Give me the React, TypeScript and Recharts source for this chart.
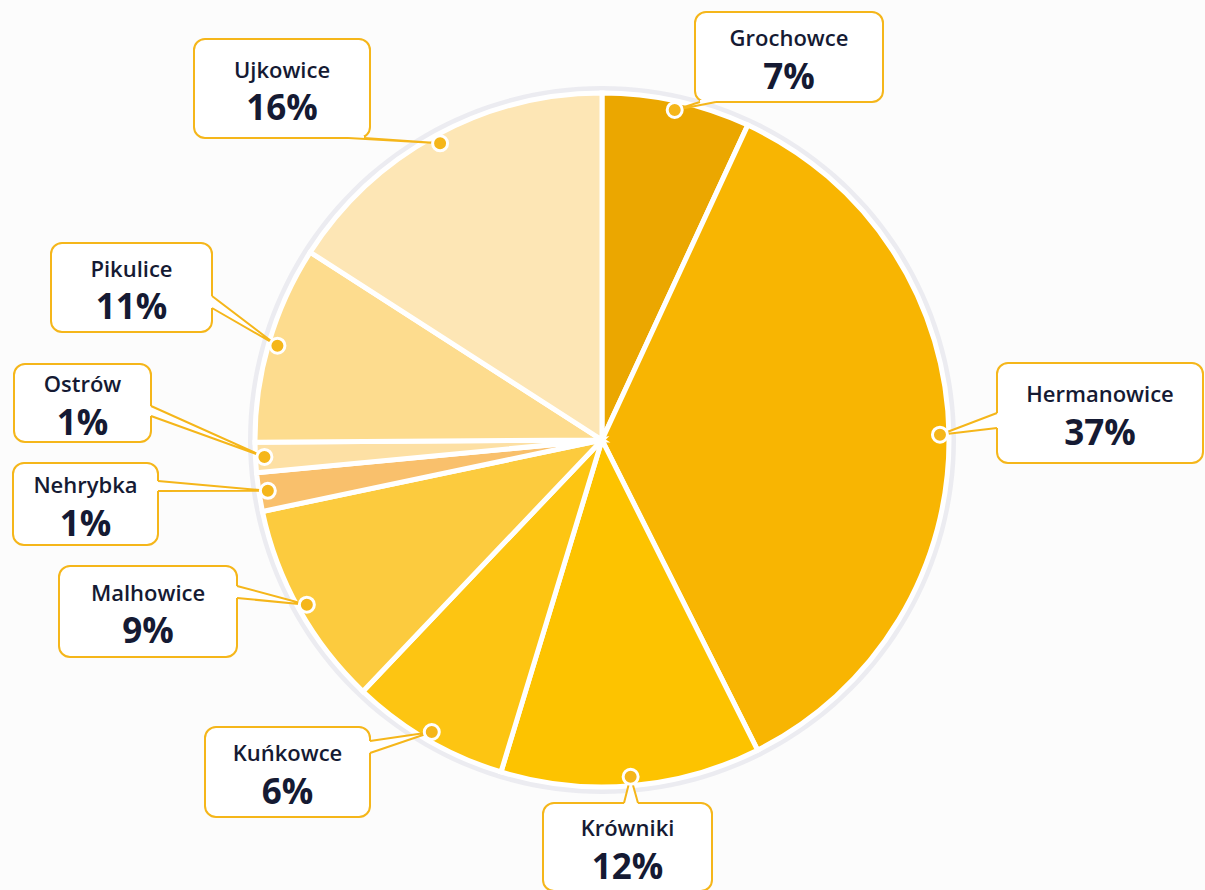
import { PieChart, Pie, Cell } from 'recharts';

const names = ['Grochowce', 'Hermanowice', 'Krówniki', 'Kuńkowce', 'Malhowice', 'Nehrybka', 'Ostrów', 'Pikulice', 'Ujkowice'];
const shares = [6.9, 35.7, 12.1, 7.4, 9.6, 1.8, 1.4, 9.2, 15.9];
const pctLabels = ['7%', '37%', '12%', '6%', '9%', '1%', '1%', '11%', '16%'];
const colors = ['#eba700', '#f8b502', '#fdc300', '#fdc512', '#fccb3e', '#f9c06c', '#fde0a4', '#fddc8e', '#fde6b5'];

// callout boxes: x, y, w, h, side the tail leaves from, tail base span along that side
const boxes = [
  { x: 695, y: 12, w: 188, h: 90, side: 'bottom', t: [700, 716] },
  { x: 997, y: 363, w: 206, h: 100, side: 'left', t: [413, 428] },
  { x: 543, y: 803, w: 169, h: 88, side: 'top', t: [624, 638] },
  { x: 205, y: 727, w: 165, h: 90, side: 'right', t: [741, 753] },
  { x: 59, y: 566, w: 178, h: 91, side: 'right', t: [586, 598] },
  { x: 13, y: 463, w: 145, h: 82, side: 'right', t: [481, 491] },
  { x: 14, y: 364, w: 137, h: 78, side: 'right', t: [406, 416] },
  { x: 51, y: 243, w: 161, h: 89, side: 'right', t: [296, 308] },
  { x: 194, y: 39, w: 176, h: 99, side: 'bottom', t: [348, 364] },
];

const data = names.map((name, i) => ({ name, value: shares[i], pct: pctLabels[i] }));

const AMBER = '#f5b61a';
const INK = '#151a33';
const RAD = Math.PI / 180;

function renderCallout(props: any) {
  const { cx, cy, midAngle, outerRadius, index } = props;
  const b = boxes[index];
  const r = outerRadius - 9;
  const dx = cx + r * Math.cos(-midAngle * RAD);
  const dy = cy + r * Math.sin(-midAngle * RAD);

  let p1: [number, number];
  let p2: [number, number];
  if (b.side === 'bottom') {
    p1 = [b.t[0], b.y + b.h];
    p2 = [b.t[1], b.y + b.h];
  } else if (b.side === 'top') {
    p1 = [b.t[0], b.y];
    p2 = [b.t[1], b.y];
  } else if (b.side === 'left') {
    p1 = [b.x, b.t[0]];
    p2 = [b.x, b.t[1]];
  } else {
    p1 = [b.x + b.w, b.t[0]];
    p2 = [b.x + b.w, b.t[1]];
  }
  const bcx = b.x + b.w / 2;
  const bcy = b.y + b.h / 2;

  return (
    <g key={`callout-${index}`}>
      <rect x={b.x} y={b.y} width={b.w} height={b.h} rx={11} ry={11} fill="#ffffff" stroke={AMBER} strokeWidth={2} />
      <line x1={p1[0]} y1={p1[1]} x2={p2[0]} y2={p2[1]} stroke="#ffffff" strokeWidth={4} />
      <polyline
        points={`${p1[0]},${p1[1]} ${dx},${dy} ${p2[0]},${p2[1]}`}
        fill="#ffffff"
        stroke={AMBER}
        strokeWidth={2}
        strokeLinejoin="round"
      />
      <circle cx={dx} cy={dy} r={7.5} fill={AMBER} stroke="#ffffff" strokeWidth={3} />
      <text x={bcx} y={bcy - 20} textAnchor="middle" dominantBaseline="central" fontSize={22} fontWeight={600} fill={INK}>
        {names[index]}
      </text>
      <text x={bcx} y={bcy + 18} textAnchor="middle" dominantBaseline="central" fontSize={35} fontWeight={700} fill={INK}>
        {pctLabels[index]}
      </text>
    </g>
  );
}

export default function App() {
  return (
    <div style={{ position: 'fixed', left: 0, top: 0, width: 1205, height: 890, background: '#fcfcfc', fontFamily: '"Open Sans", sans-serif' }}>
      <PieChart width={1205} height={890} margin={{ top: 0, right: 0, bottom: 0, left: 0 }}>
        {/* soft halo behind the pie edge */}
        <Pie
          data={[{ name: 'halo', value: 1 }]}
          dataKey="value"
          cx={602}
          cy={440}
          innerRadius={348}
          outerRadius={354}
          fill="#ececf1"
          stroke="none"
          isAnimationActive={false}
        />
        <Pie
          data={data}
          dataKey="value"
          nameKey="name"
          cx={602}
          cy={440}
          outerRadius={347}
          startAngle={90}
          endAngle={-270}
          stroke="#ffffff"
          strokeWidth={5}
          label={renderCallout}
          labelLine={false}
          isAnimationActive={false}
        >
          {data.map((d, i) => (
            <Cell key={d.name} fill={colors[i]} />
          ))}
        </Pie>
      </PieChart>
    </div>
  );
}
